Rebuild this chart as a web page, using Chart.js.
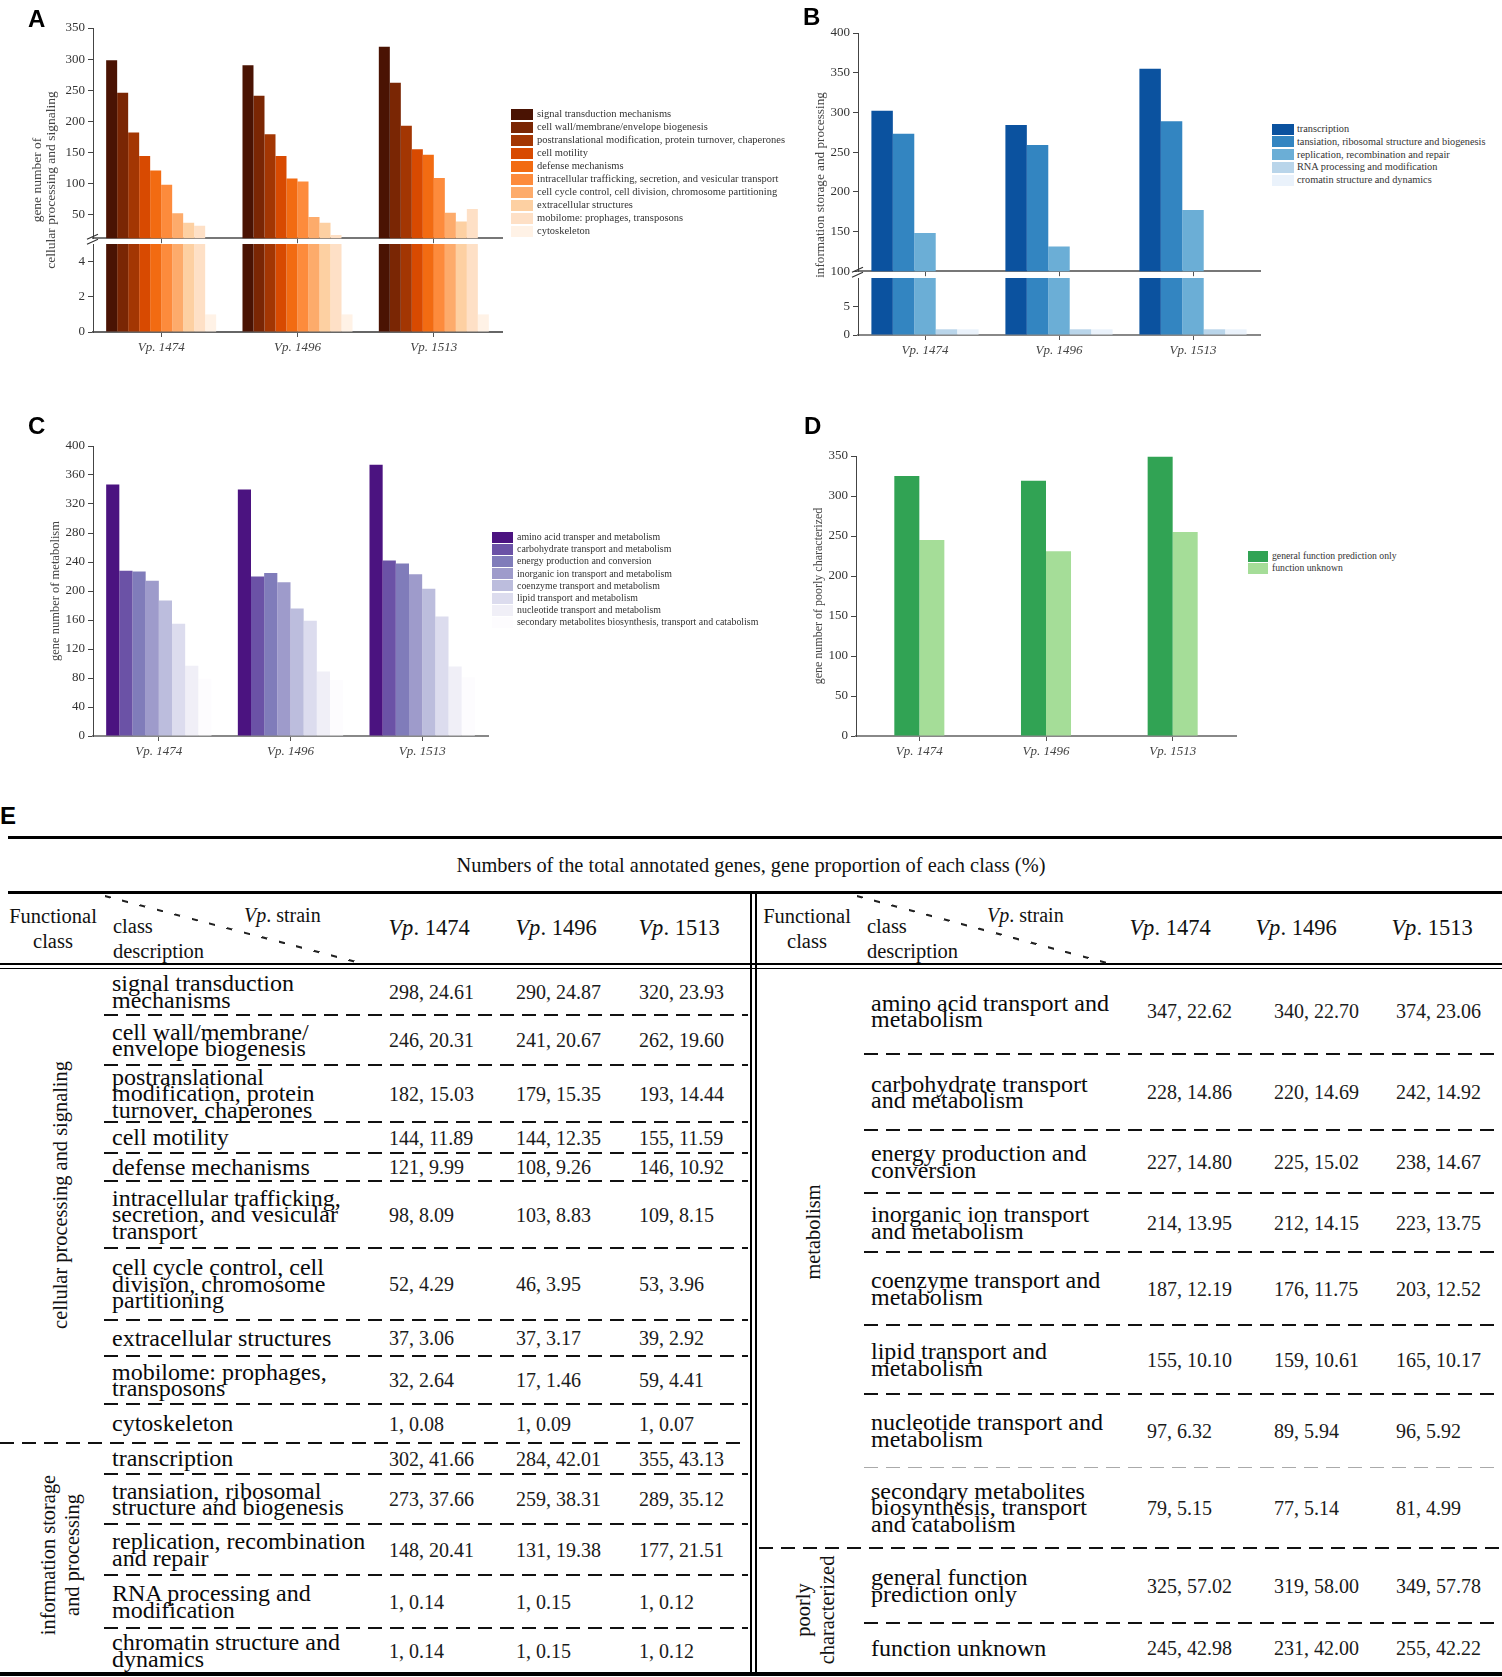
<!DOCTYPE html>
<html>
<head>
<meta charset="utf-8">
<title>COG classes of Vp strains</title>
<script src="https://cdn.jsdelivr.net/npm/chart.js@4.4.1/dist/chart.umd.min.js"></script>
<style>
  body { margin: 0; background: #fff; }
  #page { position: relative; width: 1502px; height: 1677px; overflow: hidden; font-family: 'Liberation Serif', 'Times New Roman', serif; color: #111; }
  #page canvas { position: absolute; }
  .panel { position: absolute; font: bold 24px 'Liberation Sans', Arial, sans-serif; line-height: 24px; color: #000; }
</style>
</head>
<body>
<div id="page"></div>
<script>
// strains (x axis)
const strains = ['Vp. 1474', 'Vp. 1496', 'Vp. 1513'];

// A - cellular processing and signaling
const cellularClasses = ['signal transduction mechanisms', 'cell wall/membrane/envelope biogenesis',
  'postranslational modification, protein turnover, chaperones', 'cell motility', 'defense mechanisms',
  'intracellular trafficking, secretion, and vesicular transport', 'cell cycle control, cell division, chromosome partitioning',
  'extracellular structures', 'mobilome: prophages, transposons', 'cytoskeleton'];
const cellularCounts = [[298, 290, 320], [246, 241, 262], [182, 179, 193], [144, 144, 155], [121, 108, 146],
  [98, 103, 109], [52, 46, 53], [37, 37, 39], [32, 17, 59], [1, 1, 1]];
const cellularPercent = [[24.61, 24.87, 23.93], [20.31, 20.67, 19.60], [15.03, 15.35, 14.44], [11.89, 12.35, 11.59],
  [9.99, 9.26, 10.92], [8.09, 8.83, 8.15], [4.29, 3.95, 3.96], [3.06, 3.17, 2.92], [2.64, 1.46, 4.41], [0.08, 0.09, 0.07]];
const cellularColors = ['#4a1303', '#7a2604', '#a33603', '#d84a01', '#f26b12', '#fd8b3c', '#fdab6b', '#fdd0a2', '#fee0c6', '#fff2e6'];

// B - information storage and processing
const infoClasses = ['transcription', 'tansiation, ribosomal structure and biogenesis', 'replication, recombination and repair',
  'RNA processing and modification', 'cromatin structure and dynamics'];
const infoCounts = [[302, 284, 355], [273, 259, 289], [148, 131, 177], [1, 1, 1], [1, 1, 1]];
const infoPercent = [[41.66, 42.01, 43.13], [37.66, 38.31, 35.12], [20.41, 19.38, 21.51], [0.14, 0.15, 0.12], [0.14, 0.15, 0.12]];
const infoColors = ['#0b529f', '#3385c1', '#6baed6', '#b9d5ea', '#eaf2fb'];

// C - metabolism
const metabolismClasses = ['amino acid transper and metabolism', 'carbohydrate transport and metabolism',
  'energy production and conversion', 'inorganic ion transport and metabolism', 'coenzyme transport and metabolism',
  'lipid transport and metabolism', 'nucleotide transport and metabolism',
  'secondary metabolites biosynthesis, transport and catabolism'];
const metabolismCounts = [[347, 340, 374], [228, 220, 242], [227, 225, 238], [214, 212, 223], [187, 176, 203],
  [155, 159, 165], [97, 89, 96], [79, 77, 81]];
const metabolismPercent = [[22.62, 22.70, 23.06], [14.86, 14.69, 14.92], [14.80, 15.02, 14.67], [13.95, 14.15, 13.75],
  [12.19, 11.75, 12.52], [10.10, 10.61, 10.17], [6.32, 5.94, 5.92], [5.15, 5.14, 4.99]];
const metabolismColors = ['#4b1380', '#6b52a6', '#807cba', '#9e9bcb', '#bcbddd', '#dcdcee', '#f0eff7', '#fdfcfe'];

// D - poorly characterized
const poorClasses = ['general function prediction only', 'function unknown'];
const poorCounts = [[325, 319, 349], [245, 231, 255]];
const poorPercent = [[57.02, 58.00, 57.78], [42.98, 42.00, 42.22]];
const poorColors = ['#31a354', '#a5dd98'];

// tick labels
const ticksAUpper = [50, 100, 150, 200, 250, 300, 350];
const ticksALower = [0, 2, 4];
const ticksBUpper = [100, 150, 200, 250, 300, 350, 400];
const ticksBLower = [0, 5];
const ticksC = [0, 40, 80, 120, 160, 200, 240, 280, 320, 360, 400];
const ticksD = [0, 50, 100, 150, 200, 250, 300, 350];

// table row text (as printed in panel E)
const cellularRowText = ['signal transduction\nmechanisms', 'cell wall/membrane/\nenvelope biogenesis',
  'postranslational\nmodification, protein\nturnover, chaperones', 'cell motility', 'defense mechanisms',
  'intracellular trafficking,\nsecretion, and vesicular\ntransport', 'cell cycle control, cell\ndivision, chromosome\npartitioning',
  'extracellular structures', 'mobilome: prophages,\ntransposons', 'cytoskeleton'];
const infoRowText = ['transcription', 'transiation, ribosomal\nstructure and biogenesis', 'replication, recombination\nand repair',
  'RNA processing and\nmodification', 'chromatin structure and\ndynamics'];
const metabolismRowText = ['amino acid transport and\nmetabolism', 'carbohydrate transport\nand metabolism',
  'energy production and\nconversion', 'inorganic ion transport\nand metabolism', 'coenzyme transport and\nmetabolism',
  'lipid transport and\nmetabolism', 'nucleotide transport and\nmetabolism', 'secondary metabolites\nbiosynthesis, transport\nand catabolism'];
const poorRowText = ['general function\nprediction only', 'function unknown'];

const page = document.getElementById('page');
const SERIF = "'Liberation Serif', 'Times New Roman', serif";

function el(css, text) {
  const d = document.createElement('div');
  d.style.cssText = 'position:absolute;' + css;
  if (text != null) d.textContent = text;
  page.appendChild(d);
  return d;
}

// little "//" mark where the y axis is broken
const breakMark = {
  id: 'breakMark',
  afterDraw(chart) {
    const { ctx, chartArea } = chart;
    const x = chartArea.left, y = chartArea.bottom;
    ctx.save();
    ctx.strokeStyle = '#333';
    ctx.lineWidth = 1.2;
    ctx.beginPath();
    ctx.moveTo(x - 6, y + 1); ctx.lineTo(x + 5, y - 4);
    ctx.moveTo(x - 6, y + 6); ctx.lineTo(x + 5, y + 1);
    ctx.stroke();
    ctx.restore();
  }
};

function barChart(area, cfg) {
  const yW = 50, padTop = 14, padRight = 10;
  const xH = cfg.showX ? 30 : 0;
  const padBottom = cfg.showX ? 0 : 10;
  const left = area.x0 - yW, top = area.y0 - padTop;
  const w = area.x1 + padRight - left, h = area.y1 + xH + padBottom - top;
  const cv = document.createElement('canvas');
  cv.width = w; cv.height = h;
  cv.style.left = left + 'px'; cv.style.top = top + 'px';
  cv.style.width = w + 'px'; cv.style.height = h + 'px';
  page.appendChild(cv);
  return new Chart(cv.getContext('2d'), {
    type: 'bar',
    data: {
      labels: strains,
      datasets: cfg.series.map((vals, i) => ({
        label: cfg.names[i],
        data: vals,
        backgroundColor: cfg.colors[i],
        borderWidth: 0,
        categoryPercentage: cfg.catPct,
        barPercentage: 1,
        clip: 0
      }))
    },
    options: {
      responsive: false,
      animation: false,
      layout: { padding: { top: padTop, right: padRight, bottom: padBottom, left: 0 } },
      plugins: { legend: { display: false }, tooltip: { enabled: false } },
      scales: {
        x: {
          display: cfg.showX,
          offset: true,
          grid: { offset: false, drawOnChartArea: false, tickLength: 5, color: '#555' },
          border: { color: cfg.xAxisColor || '#777', width: 2 },
          ticks: { font: { family: SERIF, size: 13, style: 'italic' }, color: '#444', padding: 3, maxRotation: 0 },
          afterFit: s => { s.height = xH; }
        },
        y: {
          min: cfg.min, max: cfg.max,
          afterBuildTicks: s => { s.ticks = cfg.ticks.map(v => ({ value: v })); },
          afterFit: s => { s.width = yW; },
          grid: { drawOnChartArea: false, tickLength: 5, color: '#444' },
          border: { color: '#444', width: 1 },
          ticks: { font: { family: SERIF, size: 13 }, color: '#333', padding: 3 }
        }
      }
    },
    plugins: cfg.broken ? [breakMark] : []
  });
}

function legend(names, colors, sx, sw, tx, y0, dy, fs) {
  names.forEach((n, i) => {
    const y = y0 + i * dy;
    el(`left:${sx}px;top:${y - 5.5}px;width:${sw}px;height:11px;background:${colors[i]}`);
    el(`left:${tx}px;top:${y - 7}px;font:${fs}px ${SERIF};line-height:14px;color:#333;white-space:nowrap`, n);
  });
}

function vtext(html, cx, cy, css) {
  const d = el(`left:${cx}px;top:${cy}px;transform:translate(-50%,-50%) rotate(-90deg);white-space:nowrap;text-align:center;${css}`);
  d.innerHTML = html;
  return d;
}

// ---------- panel A (broken axis: two stacked charts) ----------
barChart({ x0: 93, x1: 502, y0: 28, y1: 239 },
  { series: cellularCounts, names: cellularClasses, colors: cellularColors, catPct: 0.807, min: 12, max: 350, ticks: ticksAUpper, broken: true });
barChart({ x0: 93, x1: 502, y0: 244, y1: 332 },
  { series: cellularCounts, names: cellularClasses, colors: cellularColors, catPct: 0.807, min: 0, max: 5, ticks: ticksALower, showX: true, xAxisColor: '#666' });
vtext('gene number of<br>cellular processing and signaling', 44, 180, `font:13.5px ${SERIF};line-height:14px;color:#444`);
legend(cellularClasses, cellularColors, 511, 22, 537, 114, 13, 10.5);

// ---------- panel B ----------
barChart({ x0: 858, x1: 1260, y0: 33, y1: 272 },
  { series: infoCounts, names: infoClasses, colors: infoColors, catPct: 0.8, min: 100, max: 400, ticks: ticksBUpper, broken: true });
barChart({ x0: 858, x1: 1260, y0: 278, y1: 335 },
  { series: infoCounts, names: infoClasses, colors: infoColors, catPct: 0.8, min: 0, max: 10, ticks: ticksBLower, showX: true, xAxisColor: '#888' });
vtext('information storage and processing', 820, 185, `font:13.2px ${SERIF};color:#444`);
legend(infoClasses, infoColors, 1272, 22, 1297, 129, 12.8, 10.3);

// ---------- panel C ----------
barChart({ x0: 93, x1: 488, y0: 446, y1: 736 },
  { series: metabolismCounts, names: metabolismClasses, colors: metabolismColors, catPct: 0.8, min: 0, max: 400, ticks: ticksC, showX: true, xAxisColor: '#888' });
vtext('gene number of metabolism', 55, 591, `font:12.5px ${SERIF};color:#444`);
legend(metabolismClasses, metabolismColors, 492, 21, 517, 537, 12.2, 9.9);

// ---------- panel D ----------
barChart({ x0: 856, x1: 1236, y0: 456, y1: 736 },
  { series: poorCounts, names: poorClasses, colors: poorColors, catPct: 0.395, min: 0, max: 350, ticks: ticksD, showX: true, xAxisColor: '#888' });
vtext('gene number of poorly characterized', 818, 596, `font:12px ${SERIF};color:#444`);
legend(poorClasses, poorColors, 1248, 20, 1272, 556, 12, 9.7);

// panel letters
[['A', 28, 7], ['B', 803, 5], ['C', 28, 414], ['D', 804, 414], ['E', 0, 804]].forEach(([t, x, y]) => {
  const d = el(`left:${x}px;top:${y}px`, t);
  d.className = 'panel';
});

// ---------- panel E: table ----------
function hLine(x0, x1, y, w, color) {
  el(`left:${x0}px;top:${y - w / 2}px;width:${x1 - x0}px;height:${w}px;background:${color || '#000'}`);
}
function vLine(x, y0, y1, w) {
  el(`left:${x - w / 2}px;top:${y0}px;width:${w}px;height:${y1 - y0}px;background:#000`);
}
function hDash(x0, x1, y, w, color, dash, gap) {
  el(`left:${x0}px;top:${y - w / 2}px;width:${x1 - x0}px;height:${w}px;background:repeating-linear-gradient(90deg, ${color} 0 ${dash}px, transparent ${dash}px ${dash + gap}px)`);
}
function diagDash(x0, y0, x1, y1) {
  const len = Math.hypot(x1 - x0, y1 - y0), ang = Math.atan2(y1 - y0, x1 - x0) * 180 / Math.PI;
  el(`left:${x0}px;top:${y0}px;width:${len}px;height:2px;transform-origin:0 0;transform:rotate(${ang}deg);background:repeating-linear-gradient(90deg,#222 0 6px,transparent 6px 18px)`);
}
function cell(text, x, yTop, yBot, css) {
  return el(`left:${x}px;top:${yTop}px;height:${yBot - yTop}px;display:flex;align-items:center;white-space:pre;${css}`, text);
}
const fmt = (n, p) => `${n}, ${p.toFixed(2)}`;

// rules
hLine(8, 1502, 837, 3);
el(`left:0;width:1502px;top:851px;text-align:center;font:20.4px ${SERIF};line-height:28px;color:#111`,
  'Numbers of the total annotated genes, gene proportion of each class (%)');
hLine(8, 1502, 892, 3);
hLine(0, 1502, 964, 2.5);
hLine(0, 1502, 968.5, 1.5);
hLine(0, 1502, 1674, 3.5);
vLine(751, 892, 1676, 1.5);
vLine(756, 892, 1676, 1.5);

// header cells
function header(xFc, xCls, xStrain, colCenters, diag) {
  el(`left:${xFc - 60}px;width:120px;top:904px;text-align:center;font:20.5px ${SERIF};line-height:25px;color:#111;white-space:pre`, 'Functional\nclass');
  el(`left:${xCls}px;top:914px;font:20.5px ${SERIF};line-height:25px;color:#111;white-space:pre`, 'class\ndescription');
  el(`left:${xStrain}px;top:903px;font:20px ${SERIF};line-height:25px;color:#111;white-space:nowrap`).innerHTML = '<i>Vp</i>. strain';
  colCenters.forEach((cx, i) => {
    const parts = strains[i].split('. ');
    el(`left:${cx - 60}px;width:120px;top:913px;text-align:center;font:22.5px ${SERIF};line-height:30px;color:#111`).innerHTML =
      `<i>${parts[0]}</i>. ${parts[1]}`;
  });
  diagDash(diag[0], diag[1], diag[2], diag[3]);
}
header(53, 113, 244, [429, 556, 679], [105, 895, 364, 963]);
header(807, 867, 987, [1170, 1296, 1432], [857, 895, 1111, 963]);

const descCss = `font:24px ${SERIF};line-height:16.5px;color:#0a0a0a`;
const valCss = `font:20px ${SERIF};line-height:22px;color:#1a1a1a`;

// left half
const leftY = [968, 1015, 1065, 1122, 1153, 1181, 1248, 1320, 1356, 1404, 1443, 1474, 1524, 1575, 1628, 1673];
const leftText = cellularRowText.concat(infoRowText);
const leftCounts = cellularCounts.concat(infoCounts);
const leftPct = cellularPercent.concat(infoPercent);
const leftCols = [389, 516, 639];
leftText.forEach((t, i) => {
  cell(t, 112, leftY[i], leftY[i + 1], descCss);
  leftCols.forEach((x, j) => cell(fmt(leftCounts[i][j], leftPct[i][j]), x, leftY[i], leftY[i + 1], valCss));
  if (i < leftText.length - 1) {
    const full = i === cellularRowText.length - 1;
    hDash(full ? 0 : 104, 748, leftY[i + 1], 2, '#111', 14, 8);
  }
});
vtext('cellular processing and signaling', 60, 1195, `font:20.4px ${SERIF};color:#111`);
vtext('information storage<br>and processing', 60, 1555, `font:20.4px ${SERIF};line-height:24px;color:#111`);

// right half
const rightY = [968, 1054, 1130, 1193, 1252, 1325, 1394, 1467, 1548, 1623, 1673];
const rightText = metabolismRowText.concat(poorRowText);
const rightCounts = metabolismCounts.concat(poorCounts);
const rightPct = metabolismPercent.concat(poorPercent);
const rightCols = [1147, 1274, 1396];
rightText.forEach((t, i) => {
  cell(t, 871, rightY[i], rightY[i + 1], descCss);
  rightCols.forEach((x, j) => cell(fmt(rightCounts[i][j], rightPct[i][j]), x, rightY[i], rightY[i + 1], valCss));
  if (i < rightText.length - 1) {
    const full = i === metabolismRowText.length - 1;
    const light = i === metabolismRowText.length - 2;
    if (light) hDash(864, 1502, rightY[i + 1], 1, '#aaa', 14, 8);
    else hDash(full ? 759 : 864, 1502, rightY[i + 1], 2, '#111', 14, 8);
  }
});
vtext('metabolism', 813, 1232, `font:20.4px ${SERIF};color:#111`);
vtext('poorly<br>characterized', 815, 1610, `font:20.4px ${SERIF};line-height:24px;color:#111`);
</script>
</body>
</html>
